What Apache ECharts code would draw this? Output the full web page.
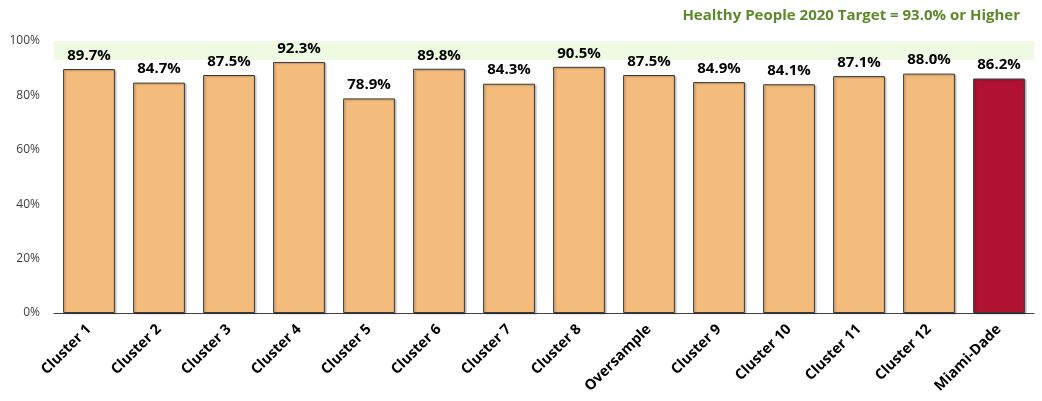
<!DOCTYPE html>
<html><head><meta charset="utf-8">
<script src="https://cdn.jsdelivr.net/npm/echarts@6/dist/echarts.min.js"></script>
<style>html,body{margin:0;padding:0;background:#fff}#c{width:1042px;height:401px}</style>
</head><body><div id="c"></div>
<script>
const categories = ['Cluster 1','Cluster 2','Cluster 3','Cluster 4','Cluster 5','Cluster 6','Cluster 7','Cluster 8','Oversample','Cluster 9','Cluster 10','Cluster 11','Cluster 12','Miami-Dade'];
const values = [89.7,84.7,87.5,92.3,78.9,89.8,84.3,90.5,87.5,84.9,84.1,87.1,88.0,86.2];
const highlight = 'Miami-Dade';
const targetLow = 93, targetHigh = 100;
const yTicks = [0,20,40,60,80,100];

const FONT = '"Open Sans", "Noto Sans", sans-serif';
const chart = echarts.init(document.getElementById('c'), null, {renderer:'canvas'});
chart.setOption({
  animation:false,
  textStyle:{fontFamily:FONT},
  graphic:[{type:'text', right:22, top:8, style:{text:'Healthy People 2020 Target = 93.0% or Higher', fill:'#5b8a2b', font:'bold 15px '+FONT}}],
  grid:{left:54, right:8, top:41, bottom:88, containLabel:false},
  xAxis:{type:'category', data:categories,
    axisLine:{show:true, lineStyle:{color:'#404040', width:1}},
    axisTick:{show:false},
    axisLabel:{rotate:45, interval:0, color:'#000', fontWeight:'bold', fontSize:14.5, fontFamily:FONT, margin:14}},
  yAxis:{type:'value', min:yTicks[0], max:yTicks[yTicks.length-1], interval:20,
    axisLine:{show:false}, axisTick:{show:false}, splitLine:{show:false},
    axisLabel:{formatter:v=>v+'%', color:'#404040', fontSize:12, fontFamily:FONT, margin:14}},
  series:[{type:'bar', barWidth:'74%',
    data: values.map((v,i)=>({value:v, itemStyle:{color: categories[i]===highlight ? '#b01232' : '#f4bc7c'}})),
    itemStyle:{borderColor:'#3a3a3a', borderWidth:1, shadowColor:'rgba(0,0,0,0.25)', shadowOffsetX:1.5, shadowOffsetY:1, shadowBlur:1.5},
    label:{show:true, position:'top', distance:6, formatter:p=>p.value.toFixed(1)+'%', color:'#000', fontWeight:'bold', fontSize:15, fontFamily:FONT},
    markArea:{silent:true, itemStyle:{color:'#eefbe2'}, data:[[{yAxis:targetLow},{yAxis:targetHigh}]]},
    z:2
  }]
});
</script></body></html>
